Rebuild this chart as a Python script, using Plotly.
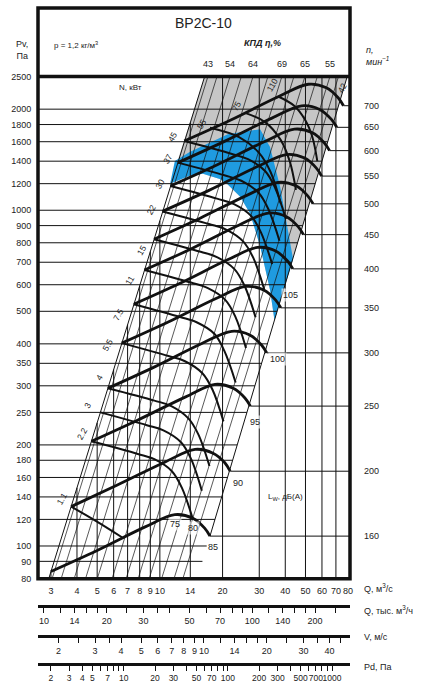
import numpy as np
import plotly.graph_objects as go

# fan speed for every pressure curve, min^-1 (right hand scale)
speeds = [160, 200, 250, 300, 350, 400, 450, 500, 550, 600, 650, 700]

# pressure curves Pv(Q), one list per speed
arch_q = [
    [3.0, 5.0, 8.5, 11.8, 14.4, 16.4, 17.4],
    [3.75, 6.25, 10.6, 14.75, 18.0, 20.5, 21.75],
    [4.69, 7.81, 13.3, 18.4, 22.5, 25.6, 27.2],
    [5.63, 9.38, 15.9, 22.1, 27.0, 30.75, 32.6],
    [6.56, 10.9, 18.6, 25.8, 31.5, 35.9, 38.1],
    [7.5, 12.5, 21.25, 29.5, 36.0, 41.0, 43.5],
    [8.44, 14.1, 23.9, 33.2, 40.5, 46.1, 48.9],
    [9.38, 15.6, 26.6, 36.9, 45.0, 51.25, 54.4],
    [10.3, 17.2, 29.2, 40.6, 49.5, 56.4, 59.8],
    [11.25, 18.75, 31.9, 44.25, 54.0, 61.5, 65.25],
    [12.2, 20.3, 34.5, 47.9, 58.5, 66.6, 70.7],
    [13.1, 21.9, 37.2, 51.6, 63.0, 71.75, 76.1],
]
arch_p = [
    [84, 97, 114, 124, 121, 113, 107],
    [131, 152, 178, 194, 189, 177, 167],
    [205, 237, 278, 303, 295, 276, 261],
    [295, 341, 401, 436, 425, 397, 376],
    [402, 464, 546, 593, 579, 541, 512],
    [525, 606, 713, 775, 756, 706, 669],
    [664, 767, 902, 981, 957, 894, 846],
    [820, 947, 1113, 1211, 1182, 1104, 1045],
    [993, 1146, 1347, 1465, 1430, 1335, 1264],
    [1181, 1364, 1603, 1744, 1702, 1589, 1505],
    [1386, 1601, 1881, 2047, 1997, 1865, 1766],
    [1608, 1857, 2182, 2373, 2316, 2163, 2048],
]

# motor power lines, kW
power_kw = ['1.1', '2.2', '3', '4', '5.5', '7.5', '11', '15', '22', '30', '37', '45', '55', '75', '110']
power_q = [
    [3.75, 4.9, 6.6],
    [4.69, 7.84, 9.46, 11.42, 12.76, 14.41],
    [5.18, 8.66, 10.4, 12.6, 14.1, 15.9],
    [5.63, 9.41, 11.35, 13.7, 15.3, 17.3],
    [6.57, 11.0, 13.2, 16.0, 17.9, 20.2],
    [7.5, 12.5, 15.1, 18.3, 20.4, 23.1],
    [8.44, 14.1, 17.0, 20.6, 23.0, 25.9],
    [9.38, 15.7, 18.9, 22.8, 25.5, 28.8],
    [10.3, 17.2, 20.8, 25.1, 28.1, 31.7],
    [11.25, 18.8, 22.7, 27.4, 30.6, 34.6],
    [12.2, 20.4, 24.6, 29.7, 33.2, 37.5],
    [13.1, 22.0, 26.5, 32.0, 35.7, 40.3],
    [17.4, 24.0, 30.0, 34.0, 38.0],
    [25.6, 32.0, 38.0, 42.0, 45.0],
    [37.0, 44.0, 50.0, 54.0, 57.0],
]
power_p = [
    [131, 119, 106],
    [205, 188, 181, 167, 149, 120],
    [250, 229, 221, 204, 182, 146],
    [295, 271, 261, 240, 215, 173],
    [402, 368, 355, 327, 292, 235],
    [525, 481, 463, 428, 381, 307],
    [664, 609, 586, 541, 483, 389],
    [820, 752, 724, 668, 596, 480],
    [992, 910, 876, 808, 721, 581],
    [1181, 1083, 1043, 962, 858, 691],
    [1386, 1271, 1224, 1129, 1007, 811],
    [1607, 1474, 1419, 1309, 1168, 941],
    [1760, 1650, 1480, 1300, 1050],
    [1950, 1830, 1620, 1400, 1150],
    [2182, 2050, 1850, 1650, 1400],
]
power_lbl_q = [3.38, 4.22, 4.51, 5.15, 5.63, 6.29, 7.18, 8.20, 9.05, 10.0, 10.9, 11.5, 15.9, 23.4, 34.5]
power_lbl_p = [138, 216, 263, 318, 396, 489, 620, 760, 1005, 1199, 1421, 1651, 1804, 2039, 2367]

# sound power level labels, dB(A)
noise_db = ['75', '80', '85', '90', '95', '100', '105']
noise_q = [11.8, 14.4, 18.0, 23.7, 28.6, 36.9, 42.6]
noise_p = [116, 113, 99.5, 154, 234, 360, 560]

# efficiency (%) of the system lines, labelled above the chart
eff_pct = ['43', '54', '64', '69', '65', '55']
eff_q = [17.0, 21.7, 28.0, 38.5, 49.7, 65.5]

# thin system lines P ~ Q^2: flow at 2500 Pa and at 80 Pa
sys_q_top = [17.0, 18.8, 21.7, 24.6, 28.0, 33.0, 38.5, 44.0, 49.7, 57.0, 65.5, 72.0]
sys_q_bot = [3.04, 3.36, 3.88, 4.40, 5.01, 5.90, 6.89, 7.87, 8.89, 10.2, 11.7, 12.9]

# edges of the working field
lb_q, lb_p = [2.93, 16.4], [80, 2500]
rb_q, rb_p = [17.4, 79.3], [107, 2500]

# shaded zones
gray_q = [11.2, 16.4, 79.3, 45.7, 43.6, 35.5, 33.8, 30.3, 27.1, 24.3, 21.0, 19.4, 16.1, 13.9, 11.2]
gray_p = [1199, 2500, 2500, 798, 715, 470, 579, 781, 978, 1097, 1199, 1240, 1284, 1266, 1199]
blue_q = [11.2, 11.8, 13.9, 21.2, 30.3, 33.8, 37.8, 41.3, 43.6, 35.5, 33.8, 30.3, 27.1, 24.3, 21.0, 19.4, 16.1, 13.9, 11.2]
blue_p = [1199, 1402, 1491, 1685, 1743, 1542, 1175, 871, 715, 470, 579, 781, 978, 1097, 1199, 1240, 1284, 1266, 1199]

q_ticks = [3, 4, 5, 6, 7, 8, 9, 10, 14, 20, 30, 40, 50, 60, 70, 80]
p_ticks = [80, 90, 100, 120, 140, 160, 180, 200, 250, 300, 350, 400, 500, 600, 700,
           800, 900, 1000, 1200, 1400, 1600, 1800, 2000, 2500]

qh_ticks = [10, 12, 14, 16, 18, 20, 25, 30, 35, 40, 50, 60, 70, 80, 90, 100, 120, 140, 160, 180, 200, 250]
qh_labels = ['10', '14', '20', '30', '50', '70', '100', '140', '200']
v_ticks = [2, 2.5, 3, 3.5, 4, 5, 6, 7, 8, 9, 10, 12, 14, 16, 18, 20, 25, 30, 35, 40, 45]
v_labels = ['2', '3', '4', '5', '6', '7', '8', '9', '10', '14', '20', '30', '40']
pd_ticks = [2, 3, 4, 5, 6, 7, 8, 9, 10, 20, 30, 40, 50, 60, 70, 80, 90, 100,
            200, 300, 400, 500, 600, 700, 800, 900, 1000]
pd_labels = ['2', '3', '4', '5', '7', '10', '20', '30', '50', '70', '100', '200', '300', '500', '700', '1000']

Q_MIN, Q_MAX = 2.6, 81.8
FONT = 'Liberation Sans, Arial, sans-serif'
INK = '#111111'


def on_line(x, xs, ys):
    # point on a straight line of a log-log plot
    lx, ly = np.log10(xs), np.log10(ys)
    t = (np.log10(x) - lx[0]) / (lx[1] - lx[0])
    return 10 ** (ly[0] + t * (ly[1] - ly[0]))


def joined(xs_list, ys_list):
    xs, ys = [], []
    for a, b in zip(xs_list, ys_list):
        xs += list(a) + [None]
        ys += list(b) + [None]
    return xs, ys


fig = go.Figure()

fig.add_trace(go.Scatter(x=gray_q, y=gray_p, fill='toself', fillcolor='#c6c6c6',
                         line=dict(width=0), mode='lines', hoverinfo='skip'))
fig.add_trace(go.Scatter(x=blue_q, y=blue_p, fill='toself', fillcolor='#1f9be0',
                         line=dict(width=0), mode='lines', hoverinfo='skip'))

# grid: verticals stop at the left edge of the field, horizontals at the right edge
gx, gy = [], []
for q in q_ticks[:-1]:
    gx.append([q, q])
    gy.append([80, min(2500, on_line(q, lb_q, lb_p))])
for p in p_ticks[1:-1]:
    gx.append([Q_MIN, on_line(p, rb_p, rb_q)])
    gy.append([p, p])
x, y = joined(gx, gy)
fig.add_trace(go.Scatter(x=x, y=y, mode='lines', line=dict(color=INK, width=1), hoverinfo='skip'))

# system lines and field edges
x, y = joined([[a, b] for a, b in zip(sys_q_bot, sys_q_top)], [[80, 2500]] * len(sys_q_top))
fig.add_trace(go.Scatter(x=x, y=y, mode='lines', line=dict(color=INK, width=0.7), hoverinfo='skip'))
x, y = joined([lb_q, rb_q], [lb_p, rb_p])
fig.add_trace(go.Scatter(x=x, y=y, mode='lines', line=dict(color=INK, width=1), hoverinfo='skip'))

# speed lines to the right scale
x, y = joined([[q[-1], Q_MAX] for q in arch_q], [[p[-1], p[-1]] for p in arch_p])
fig.add_trace(go.Scatter(x=x, y=y, mode='lines', line=dict(color=INK, width=1), hoverinfo='skip'))

# motor power lines
for q, p in zip(power_q, power_p):
    fig.add_trace(go.Scatter(x=q, y=p, mode='lines', line=dict(color=INK, width=2, shape='spline'),
                             hoverinfo='skip'))

# pressure curves
for q, p in zip(arch_q, arch_p):
    fig.add_trace(go.Scatter(x=q, y=p, mode='lines', line=dict(color=INK, width=2.8, shape='spline'),
                             hoverinfo='skip'))

# dummy points so the extra scales get drawn
for ax, xv in (('x2', 30), ('x3', 10), ('x4', 50)):
    fig.add_trace(go.Scatter(x=[xv], y=[200], xaxis=ax, yaxis='y', mode='markers',
                             marker=dict(opacity=0), hoverinfo='skip'))

ann = []
small = dict(family=FONT, size=9, color='#222')
rot = dict(family=FONT, size=8.5, color='#222')
for lbl, q, p in zip(power_kw, power_lbl_q, power_lbl_p):
    ann.append(dict(x=np.log10(q), y=np.log10(p), xref='x', yref='y', text=lbl, textangle=-60, font=rot))
ann.append(dict(x=np.log10(74.8), y=np.log10(2319), xref='x', yref='y', text='42', textangle=-60, font=rot))
for lbl, q, p in zip(noise_db, noise_q, noise_p):
    ann.append(dict(x=np.log10(q), y=np.log10(p), xref='x', yref='y', text=lbl,
                    font=small, bgcolor='rgba(255,255,255,0.6)'))
for lbl, q in zip(eff_pct, eff_q):
    ann.append(dict(x=np.log10(q), y=0.915, xref='x', text=lbl, font=small))
for n, p in zip(speeds, arch_p):
    ann.append(dict(x=1.04, y=np.log10(p[-1]), yref='y', text=str(n), xanchor='left', font=small))

ann += [
    dict(x=0.529, y=0.978, text='ВР2С-10', font=dict(family=FONT, size=14, color='#222')),
    dict(x=0.045, y=0.945, text='р = 1,2 кг/м<sup>3</sup>', xanchor='left',
         font=dict(family=FONT, size=8, color='#222')),
    dict(x=0.721, y=0.948, text='<b><i>КПД η,%</i></b>', font=dict(family=FONT, size=9, color='#222')),
    dict(x=1.045, y=0.928, text='<i>n,<br>мин<sup>−1</sup></i>', xanchor='left', align='left',
         font=dict(family=FONT, size=9, color='#222')),
    dict(x=-0.052, y=0.936, text='Pv,<br>Па', font=dict(family=FONT, size=9, color='#222')),
    dict(x=0.295, y=0.880, text='N, кВт', font=dict(family=FONT, size=8, color='#222')),
    dict(x=0.792, y=0.263, text='L<sub>W</sub>, дБ(A)', font=dict(family=FONT, size=8, color='#222')),
    dict(x=1.038, y=0.127, text='Q, м<sup>3</sup>/с', xanchor='left', font=small),
    dict(x=1.038, y=0.094, text='Q, тыс. м<sup>3</sup>/ч', xanchor='left', font=small),
    dict(x=1.038, y=0.052, text='V, м/с', xanchor='left', font=small),
    dict(x=1.038, y=0.008, text='Pd, Па', xanchor='left', font=small),
]
for a in ann:
    a.setdefault('xref', 'paper')
    a.setdefault('yref', 'paper')
    a.setdefault('xanchor', 'center')
    a.setdefault('yanchor', 'middle')
    a['showarrow'] = False
fig.update_layout(annotations=ann)

# frame and header separator
fig.add_shape(type='rect', xref='paper', yref='paper', x0=0, x1=1, y0=0.1405, y1=1.0,
              line=dict(color=INK, width=3.5))
fig.add_shape(type='line', xref='paper', yref='paper', x0=0, x1=1, y0=0.8969, y1=0.8969,
              line=dict(color=INK, width=3.5))


def scale_axis(factor, power, pos, ticks, labels, size=9):
    # extra scale under the chart, tied to Q through value = factor * Q**power
    text = [(str(t) if str(t) in labels else '') for t in ticks]
    return dict(type='log', overlaying='x', anchor='free', position=pos, side='bottom',
                range=[np.log10(factor * Q_MIN ** power), np.log10(factor * Q_MAX ** power)],
                tickvals=ticks, ticktext=text, tickangle=0, ticks='outside', ticklen=5,
                tickwidth=1.2, tickcolor=INK, showline=True, linewidth=3, linecolor=INK,
                showgrid=False, zeroline=False, tickfont=dict(family=FONT, size=size, color='#222'))


fig.update_layout(
    width=422, height=691,
    margin=dict(l=38, r=72, t=3, b=19),
    plot_bgcolor='white', paper_bgcolor='white',
    showlegend=False,
    xaxis=dict(type='log', range=[np.log10(Q_MIN), np.log10(Q_MAX)], tickvals=q_ticks,
               ticktext=[str(t) for t in q_ticks], tickangle=0, ticks='outside', ticklen=3,
               tickcolor='rgba(0,0,0,0)', showgrid=False, zeroline=False, showline=False,
               tickfont=small),
    yaxis=dict(type='log', range=[np.log10(79.9), np.log10(2503)], domain=[0.1405, 0.8969],
               tickvals=p_ticks, ticktext=[str(t) for t in p_ticks], ticks='outside', ticklen=4,
               tickcolor='rgba(0,0,0,0)', showgrid=False, zeroline=False, showline=False,
               tickfont=small),
    xaxis2=scale_axis(3.6, 1, 0.0987, qh_ticks, qh_labels),
    xaxis3=scale_axis(0.614, 1, 0.0538, v_ticks, v_labels),
    xaxis4=scale_axis(0.2225, 2, 0.012, pd_ticks, pd_labels, size=8.5),
)

fig.write_html("out.html", config={'displayModeBar': False},
               post_script="document.body.style.margin='0px';")
